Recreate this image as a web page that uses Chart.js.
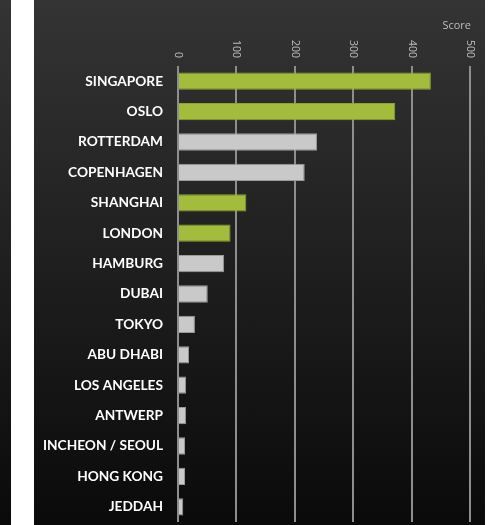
<!DOCTYPE html>
<html>
<head>
<meta charset="utf-8">
<script src="https://cdn.jsdelivr.net/npm/chart.js@4.4.1/dist/chart.umd.min.js"></script>
<style>
  html,body{margin:0;padding:0;background:#fff;}
  body{width:499px;height:525px;position:relative;overflow:hidden;}
  #edge{position:absolute;left:0;top:0;width:11px;height:525px;overflow:hidden;
    background:linear-gradient(#343434,#0a0a0a);}
  #edge span{position:absolute;left:-14px;top:44px;color:#bbb;font:10.5px "Open Sans",sans-serif;
    transform:rotate(90deg);}
  #panel{position:absolute;left:34px;top:0;width:451px;height:525px;
    background:linear-gradient(#343434,#0a0a0a);}
  canvas{display:block;}
</style>
</head>
<body>
<div id="edge"><span>500</span></div>
<div id="panel"><canvas id="chart" width="451" height="525"></canvas></div>
<script>
const cities=["SINGAPORE","OSLO","ROTTERDAM","COPENHAGEN","SHANGHAI","LONDON","HAMBURG","DUBAI","TOKYO","ABU DHABI","LOS ANGELES","ANTWERP","INCHEON / SEOUL","HONG KONG","JEDDAH"];
const scores=[433,372,238,217,117,90,79,51,29,19,14,14,12,12,9];
const highlighted=[true,true,false,false,true,true,false,false,false,false,false,false,false,false,false];
const scoreTicks=[0,100,200,300,400,500];
const axisTitle="Score";

const GREEN="#a4bc3c", GREY="#c9c9c9";

/* tick labels read top-to-bottom, plus the axis title */
const topAxisLabels={
  id:"topAxisLabels",
  afterDraw(c){
    const g=c.ctx, x=c.scales.x;
    g.save();
    g.fillStyle="#bdbdbd";
    g.font='10.5px "Open Sans", sans-serif';
    scoreTicks.forEach(v=>{
      g.save();
      g.translate(x.getPixelForValue(v),58);
      g.rotate(Math.PI/2);
      g.textAlign="right";
      g.textBaseline="middle";
      g.fillText(String(v),0,0);
      g.restore();
    });
    g.font='11px "Open Sans", sans-serif';
    g.textAlign="right";
    g.textBaseline="alphabetic";
    g.fillText(axisTitle,x.right+1,29);
    g.restore();
  }
};

new Chart(document.getElementById("chart"),{
  type:"bar",
  data:{
    labels:cities,
    datasets:[{
      data:scores,
      backgroundColor:highlighted.map(h=>h?GREEN:GREY),
      borderColor:highlighted.map(h=>h?"#8fa333":"#9a9a9a"),
      borderWidth:1,
      borderSkipped:"left",
      barPercentage:0.57,
      categoryPercentage:1
    }]
  },
  options:{
    indexAxis:"y",
    responsive:false,
    devicePixelRatio:1,
    animation:false,
    layout:{padding:{top:0,right:15,bottom:3,left:0}},
    plugins:{legend:{display:false},tooltip:{enabled:false}},
    scales:{
      x:{
        position:"top",
        min:0,max:500,
        ticks:{display:false,stepSize:100},
        grid:{color:"#8e8e8e",lineWidth:2,drawTicks:false},
        border:{display:false},
        afterFit(s){s.height=66;}
      },
      y:{
        grid:{display:false,drawTicks:false},
        border:{display:false},
        ticks:{color:"#fff",padding:15,font:{family:"Lato",size:13.7,weight:"bold"}},
        afterFit(s){s.width=144;s.paddingTop=0;s.paddingBottom=0;}
      }
    }
  },
  plugins:[topAxisLabels]
});
</script>
</body>
</html>
